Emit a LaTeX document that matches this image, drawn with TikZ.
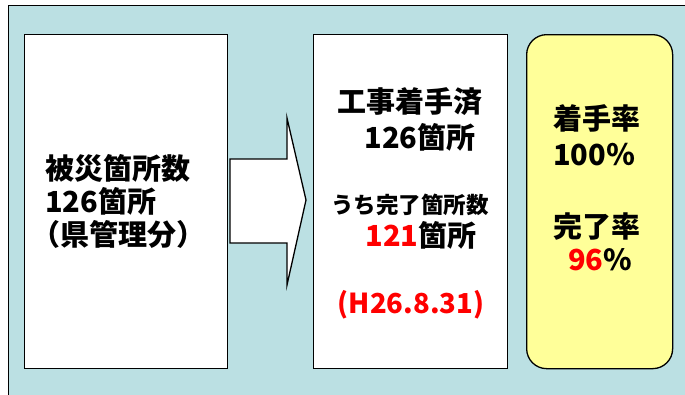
\documentclass[tikz,border=0pt]{standalone}
\usepackage{fontspec}
\setmainfont{Noto Sans CJK JP}
\definecolor{bgblue}{HTML}{BBE0E3}
\definecolor{paleyellow}{HTML}{FFFF99}
\definecolor{hired}{HTML}{FF0000}
\begin{document}
\begin{tikzpicture}[x=1pt,y=-1pt,
  frame/.style={draw=black, line width=1.3pt},
  box/.style={draw=black, line width=1.3pt, fill=white, inner sep=0pt, anchor=north west},
  ratebox/.style={draw=black, line width=1.3pt, fill=paleyellow, rounded corners=20pt, inner sep=0pt, anchor=north west},
  bigtxt/.style={font=\bfseries\fontsize{29}{29}\selectfont, inner sep=0pt},
  datetxt/.style={font=\bfseries\fontsize{27.5}{27.5}\selectfont, inner sep=0pt},
  smalltxt/.style={font=\bfseries\fontsize{22.5}{22.5}\selectfont, inner sep=0pt},
  blockarrow/.style={draw=black, line width=1.3pt, fill=white, line join=miter}
]
\useasboundingbox (0,0) rectangle (685,394);
\clip (0,0) rectangle (685,394);
\fill[white] (0,0) rectangle (685,394);
\draw[frame, fill=bgblue] (8.5,5.5) rectangle (705,420);

% boxes
\node[box, minimum width=203pt, minimum height=334pt] (src) at (24,34) {};
\node[box, minimum width=194pt, minimum height=334pt] (mid) at (313,34) {};
\node[ratebox, minimum width=146pt, minimum height=334pt] (rate) at (526,34) {};

% block arrow between src and mid
\coordinate (a1) at (230,159);
\coordinate (a2) at (287,159);
\coordinate (a3) at (287,118);
\coordinate (tip) at (306,200);
\coordinate (a5) at (287,285);
\coordinate (a6) at (287,243);
\coordinate (a7) at (230,243);
\draw[blockarrow] (a1) -- (a2) -- (a3) -- (tip) -- (a5) -- (a6) -- (a7) -- cycle;

% left box text
\node[bigtxt, anchor=west] (s1) at (45,168) {被災箇所数};
\node[bigtxt, anchor=west] (s2) at (45,201) {126箇所};
\node[bigtxt, anchor=west] (s3) at (31,234) {（県管理分）};

% middle box text
\node[bigtxt] (m1) at (410,102) {工事着手済};
\node[bigtxt] (m2) at (420,137) {126箇所};
\node[smalltxt] (m3) at (410,205) {うち完了箇所数};
\node[bigtxt] (m4) at (421,235) {\textcolor{hired}{121}箇所};
\node[datetxt, text=hired] (m5) at (411,305) {(H26.8.31)};

% rate box text
\node[bigtxt, anchor=west] (r1) at (553,118) {着手率};
\node[bigtxt, anchor=west] (r2) at (553,155) {100％};
\node[bigtxt, anchor=west] (r3) at (553,227) {完了率};
\node[bigtxt] (r4) at (600,260) {\textcolor{hired}{96}\%};
\end{tikzpicture}
\end{document}
